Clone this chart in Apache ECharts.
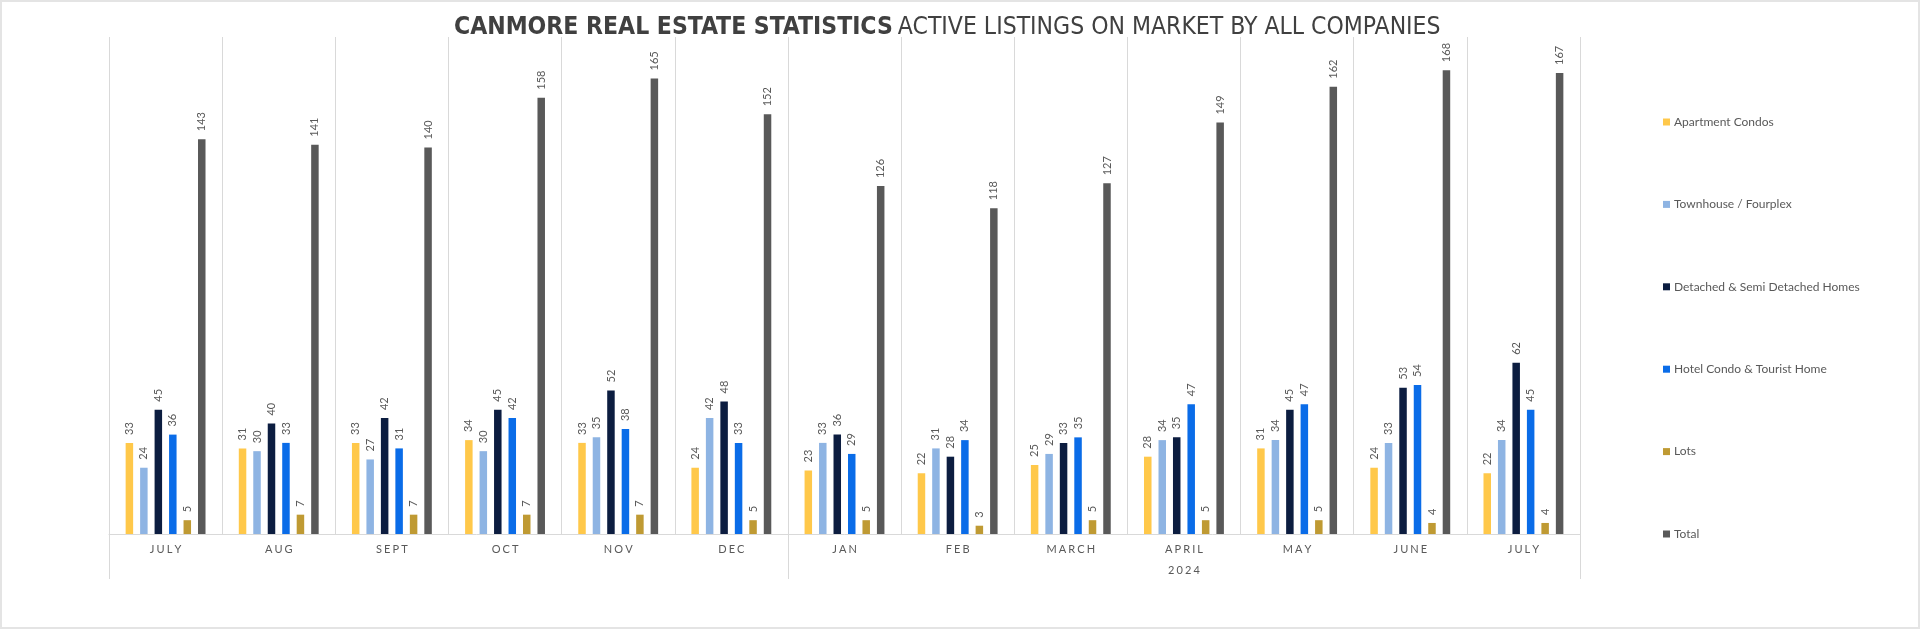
<!DOCTYPE html>
<html>
<head>
<meta charset="utf-8">
<script src="https://cdn.jsdelivr.net/npm/echarts@6/dist/echarts.min.js"></script>
<style>
  html, body { margin: 0; padding: 0; background: #ffffff; }
  #chart { position: absolute; left: 0; top: 0; width: 1920px; height: 629px; }
  #frame { position: absolute; left: 0; top: 0; width: 1920px; height: 629px; box-sizing: border-box; border: 2px solid #e4e4e4; pointer-events: none; }
</style>
</head>
<body>
<div id="chart"></div>
<div id="frame"></div>
<script>
const months = ['JULY', 'AUG', 'SEPT', 'OCT', 'NOV', 'DEC', 'JAN', 'FEB', 'MARCH', 'APRIL', 'MAY', 'JUNE', 'JULY'];
const yearGroupLabel = '2024';
const yearGroupStart = 6;   // index of JAN
const yearGroupCenter = 9;  // index of APRIL (centre of JAN..JULY)

const apartmentCondos = [33, 31, 33, 34, 33, 24, 23, 22, 25, 28, 31, 24, 22];
const townhouseFourplex = [24, 30, 27, 30, 35, 42, 33, 31, 29, 34, 34, 33, 34];
const detachedHomes = [45, 40, 42, 45, 52, 48, 36, 28, 33, 35, 45, 53, 62];
const hotelCondo = [36, 33, 31, 42, 38, 33, 29, 34, 35, 47, 47, 54, 45];
const lots = [5, 7, 7, 7, 7, 5, 5, 3, 5, 5, 5, 4, 4];
const total = [143, 141, 140, 158, 165, 152, 126, 118, 127, 149, 162, 168, 167];

const seriesNames = ['Apartment Condos', 'Townhouse / Fourplex', 'Detached & Semi Detached Homes', 'Hotel Condo & Tourist Home', 'Lots', 'Total'];
const seriesData = [apartmentCondos, townhouseFourplex, detachedHomes, hotelCondo, lots, total];
const seriesColors = ['#FFC84A', '#8EB4E3', '#0C1D40', '#0A6CE8', '#BF9A33', '#595959'];

const spaced = s => s.split('').join('\u2009\u200a');

const chart = echarts.init(document.getElementById('chart'), null, { renderer: 'canvas' });

const titleFont = "'Liberation Sans Narrow', 'Arial Narrow', 'DejaVu Sans Condensed', sans-serif";

const option = {
  backgroundColor: '#ffffff',
  animation: false,
  title: {
    text: '{b|CANMORE REAL ESTATE STATISTICS} {r|ACTIVE LISTINGS ON MARKET BY ALL COMPANIES}',
    left: 449,
    top: 10,
    textStyle: {
      rich: {
        b: { fontFamily: titleFont, fontWeight: 'bold', fontSize: 24.5, color: '#404040' },
        r: { fontFamily: titleFont, fontWeight: 'normal', fontSize: 24.5, color: '#404040' }
      }
    }
  },
  legend: {
    orient: 'vertical',
    left: 1658,
    top: 111,
    itemWidth: 7,
    itemHeight: 7,
    itemGap: 70.4,
    icon: 'rect',
    textStyle: { fontFamily: 'Lato, sans-serif', fontSize: 12, color: '#595959', padding: [0, 0, 0, -1] },
    data: seriesNames
  },
  grid: { left: 109, right: 340, top: 37, bottom: 95, containLabel: false },
  xAxis: [
    {
      type: 'category',
      data: months,
      position: 'bottom',
      axisLine: { show: true, lineStyle: { color: '#d9d9d9', width: 1 } },
      axisTick: { show: false },
      splitLine: { show: true, lineStyle: { color: '#d9d9d9', width: 1 } },
      axisLabel: {
        margin: 10,
        fontFamily: 'Lato, sans-serif',
        fontSize: 11,
        color: '#595959',
        formatter: v => spaced(v)
      }
    },
    {
      type: 'category',
      data: months,
      position: 'bottom',
      axisLine: { show: false },
      axisTick: {
        show: true,
        length: 45,
        lineStyle: { color: '#d9d9d9', width: 1 },
        interval: (i) => i === 0 || i === yearGroupStart
      },
      splitLine: { show: false },
      axisLabel: {
        margin: 31,
        interval: 0,
        fontFamily: 'Lato, sans-serif',
        fontSize: 11,
        color: '#595959',
        formatter: (v, i) => i === yearGroupCenter ? spaced(yearGroupLabel) : ''
      }
    }
  ],
  yAxis: { type: 'value', min: 0, max: 180, show: false },
  series: seriesNames.map((name, k) => ({
    name: name,
    type: 'bar',
    xAxisIndex: 0,
    data: seriesData[k],
    barWidth: 7.5,
    barGap: '93%',
    itemStyle: { color: seriesColors[k] },
    label: {
      show: true,
      position: 'top',
      rotate: 90,
      align: 'left',
      verticalAlign: 'middle',
      distance: 8,
      fontFamily: 'Lato, sans-serif',
      fontSize: 11,
      color: '#595959'
    }
  }))
};

chart.setOption(option);
</script>
</body>
</html>
